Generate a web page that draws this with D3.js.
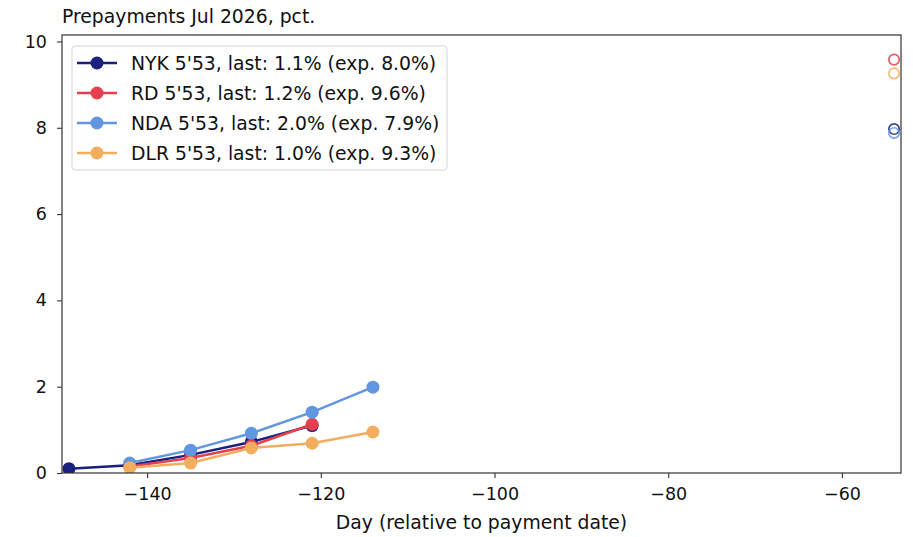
<!DOCTYPE html>
<html>
<head>
<meta charset="utf-8">
<script src="https://cdn.jsdelivr.net/npm/d3@7"></script>
<style>
  body { margin: 0; background: #fff; }
  svg { font-family: "DejaVu Sans", sans-serif; }
</style>
</head>
<body>
<div id="chart"></div>
<script>
// observed prepayments per day (relative to payment date)
var days = [-149, -142, -135, -128, -121, -114];
var nykValues = [0.10, 0.18, 0.42, 0.72, 1.10, null];
var rdValues = [null, 0.15, 0.35, 0.63, 1.13, null];
var ndaValues = [null, 0.23, 0.53, 0.92, 1.41, 1.99];
var dlrValues = [null, 0.12, 0.23, 0.58, 0.69, 0.95];

// expected prepayment, shown at the payment reference day
var expDay = -54;
var seriesNames = ["NYK 5'53, last: 1.1% (exp. 8.0%)", "RD 5'53, last: 1.2% (exp. 9.6%)",
  "NDA 5'53, last: 2.0% (exp. 7.9%)", "DLR 5'53, last: 1.0% (exp. 9.3%)"];
var expValues = [7.97, 9.58, 7.88, 9.26];
var colors = ['#1b1f7d', '#e5404f', '#6197e0', '#f1ae5f'];

var xTicks = [-140, -120, -100, -80, -60];
var yTicks = [0, 2, 4, 6, 8, 10];

var width = 913, height = 537;
var margin = { top: 35, right: 12, bottom: 64, left: 62 };
var tickFont = '17.5px', textFont = '18.8px';

var svg = d3.select('#chart').append('svg')
  .attr('width', width)
  .attr('height', height);

var x = d3.scaleLinear().domain([-149.8, -53.2])
  .range([margin.left, width - margin.right]);
var y = d3.scaleLinear().domain([0, 10.15])
  .range([height - margin.bottom, margin.top]);

var seriesValues = [nykValues, rdValues, ndaValues, dlrValues];

svg.append('clipPath').attr('id', 'plotClip')
  .append('rect')
  .attr('x', margin.left).attr('y', margin.top)
  .attr('width', width - margin.left - margin.right)
  .attr('height', height - margin.top - margin.bottom);

var plot = svg.append('g').attr('clip-path', 'url(#plotClip)');

var line = d3.line()
  .defined(function(d) { return d.v !== null; })
  .x(function(d) { return x(d.day); })
  .y(function(d) { return y(d.v); });

seriesValues.forEach(function(vals, i) {
  var pts = days.map(function(day, j) { return { day: day, v: vals[j] }; });
  plot.append('path')
    .datum(pts)
    .attr('fill', 'none')
    .attr('stroke', colors[i])
    .attr('stroke-width', 2.5)
    .attr('d', line);

  plot.selectAll(null)
    .data(pts.filter(function(d) { return d.v !== null; }))
    .enter().append('circle')
    .attr('cx', function(d) { return x(d.day); })
    .attr('cy', function(d) { return y(d.v); })
    .attr('r', 6.5)
    .attr('fill', colors[i]);
});

// expected values, hollow markers
expValues.forEach(function(v, i) {
  plot.append('circle')
    .attr('cx', x(expDay))
    .attr('cy', y(v))
    .attr('r', 5.2)
    .attr('fill', 'none')
    .attr('stroke', colors[i])
    .attr('stroke-opacity', 0.85)
    .attr('stroke-width', 1.7);
});

// axes
var xAxis = svg.append('g')
  .attr('transform', 'translate(0,' + (height - margin.bottom) + ')')
  .call(d3.axisBottom(x).tickValues(xTicks).tickSize(5).tickPadding(10)
    .tickFormat(function(d) { return d3.format('')(d).replace('-', '\u2212'); }));

var yAxis = svg.append('g')
  .attr('transform', 'translate(' + margin.left + ',0)')
  .call(d3.axisLeft(y).tickValues(yTicks).tickSize(5).tickPadding(10));

[xAxis, yAxis].forEach(function(ax) {
  ax.select('.domain').remove();
  ax.selectAll('.tick line').attr('stroke', '#333').attr('stroke-width', 1.1);
  ax.selectAll('.tick text')
    .attr('fill', '#111')
    .style('font-size', tickFont)
    .style('font-family', '"DejaVu Sans", sans-serif');
});

svg.append('rect')
  .attr('x', margin.left).attr('y', margin.top)
  .attr('width', width - margin.left - margin.right)
  .attr('height', height - margin.top - margin.bottom)
  .attr('fill', 'none')
  .attr('stroke', '#333')
  .attr('stroke-width', 1.2);

svg.append('text')
  .attr('x', margin.left)
  .attr('y', 23)
  .attr('fill', '#111')
  .style('font-size', textFont)
  .text('Prepayments Jul 2026, pct.');

svg.append('text')
  .attr('x', (margin.left + width - margin.right) / 2)
  .attr('y', 529)
  .attr('text-anchor', 'middle')
  .attr('fill', '#111')
  .style('font-size', textFont)
  .text('Day (relative to payment date)');

// legend
var legend = svg.append('g').attr('transform', 'translate(72,46)');
legend.append('rect')
  .attr('width', 375).attr('height', 124)
  .attr('rx', 3)
  .attr('fill', '#fff').attr('fill-opacity', 0.8)
  .attr('stroke', '#d5d5d5');

seriesNames.forEach(function(name, i) {
  var row = legend.append('g').attr('transform', 'translate(0,' + (17 + i * 30) + ')');
  row.append('line')
    .attr('x1', 5).attr('x2', 45)
    .attr('stroke', colors[i]).attr('stroke-width', 2.5);
  row.append('circle')
    .attr('cx', 25).attr('r', 6.5).attr('fill', colors[i]);
  row.append('text')
    .attr('x', 59).attr('dy', '0.35em')
    .attr('fill', '#111')
    .style('font-size', textFont)
    .text(name);
});
</script>
</body>
</html>
